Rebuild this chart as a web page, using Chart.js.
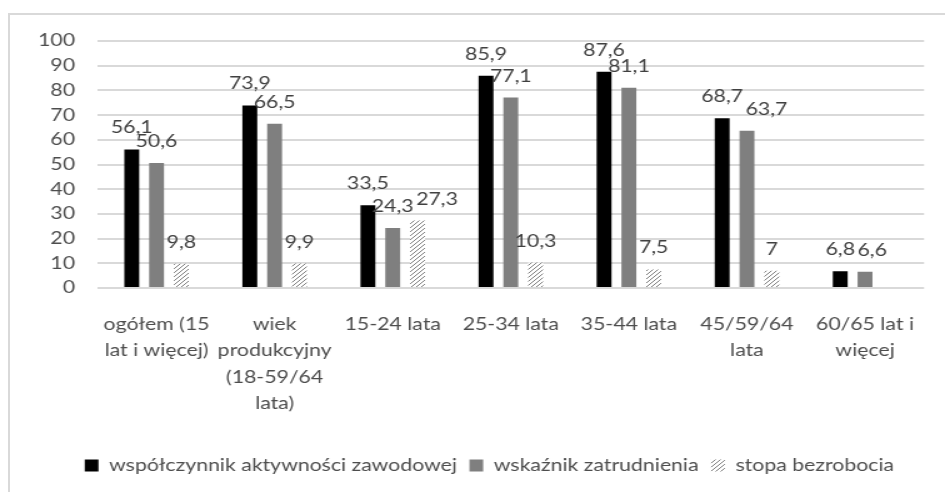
<!DOCTYPE html>
<html>
<head>
<meta charset="utf-8">
<script src="https://cdn.jsdelivr.net/npm/chart.js@4.4.1/dist/chart.umd.min.js"></script>
<style>
  html, body { margin: 0; background: #fff; overflow: hidden; }
  #frame { position: absolute; left: 8px; top: 13px; width: 960px; height: 500px; border: 2px solid #d9d9d9; box-sizing: border-box; }
  /* the reference is a horizontally stretched render, so draw narrow and stretch */
  #wrap { position: absolute; left: 0; top: 0; width: 756px; height: 492px; transform: scaleX(1.25); transform-origin: 0 0; }
</style>
</head>
<body>
<div id="frame"></div>
<div id="wrap"><canvas id="chart"></canvas></div>
<script>
const categories = [
  ["ogółem (15", "lat i więcej)"],
  ["wiek", "produkcyjny", "(18-59/64", "lata)"],
  "15-24 lata",
  "25-34 lata",
  "35-44 lata",
  ["45/59/64", "lata"],
  ["60/65 lat i", "więcej"]
];
const aktywnosc = [56.1, 73.9, 33.5, 85.9, 87.6, 68.7, 6.8];
const zatrudnienie = [50.6, 66.5, 24.3, 77.1, 81.1, 63.7, 6.6];
const bezrobocie = [9.8, 9.9, 27.3, 10.3, 7.5, 7, null];
const yTicks = [0, 10, 20, 30, 40, 50, 60, 70, 80, 90, 100];

// diagonal hatch for "stopa bezrobocia"
function makeHatch() {
  const c = document.createElement('canvas');
  c.width = 4; c.height = 4;
  const g = c.getContext('2d');
  g.fillStyle = '#fff';
  g.fillRect(0, 0, 4, 4);
  g.strokeStyle = '#7f7f7f';
  g.lineWidth = 1;
  g.beginPath();
  g.moveTo(0, 4); g.lineTo(4, 0);
  g.moveTo(-1, 1); g.lineTo(1, -1);
  g.moveTo(3, 5); g.lineTo(5, 3);
  g.stroke();
  return g.createPattern(c, 'repeat');
}

// value labels above bars, nudged right when they collide with the previous one in the group
const valueLabels = {
  id: 'valueLabels',
  afterDatasetsDraw(chart) {
    const ctx = chart.ctx;
    ctx.save();
    ctx.font = '17px Lato';
    ctx.fillStyle = '#404040';
    ctx.textAlign = 'left';
    ctx.textBaseline = 'alphabetic';
    chart.data.labels.forEach((_, j) => {
      let prev = null;
      chart.data.datasets.forEach((ds, i) => {
        const v = ds.data[j];
        if (v == null) return;
        const bar = chart.getDatasetMeta(i).data[j];
        const txt = String(v).replace('.', ',');
        const w = ctx.measureText(txt).width;
        const base = bar.y - 16;
        let left = bar.x - w / 2;
        if (prev && base - 13 < prev.base && base > prev.base - 13 && left < prev.right) {
          left = prev.right + 2;
        }
        ctx.fillText(txt, left, base);
        prev = { right: left + w, base: base };
      });
    });
    ctx.restore();
  }
};

// legend in the reference sits a bit right of the canvas centre
const legendShift = {
  id: 'legendShift',
  afterLayout(chart) {
    chart.legend.left += 19;
    chart.legend.right += 19;
  }
};

const hatch = makeHatch();

new Chart(document.getElementById('chart'), {
  type: 'bar',
  data: {
    labels: categories,
    datasets: [
      { label: 'współczynnik aktywności zawodowej', data: aktywnosc, backgroundColor: '#000000' },
      { label: 'wskaźnik zatrudnienia', data: zatrudnienie, backgroundColor: '#7f7f7f' },
      { label: 'stopa bezrobocia', data: bezrobocie, backgroundColor: hatch }
    ]
  },
  options: {
    responsive: true,
    maintainAspectRatio: false,
    animation: false,
    devicePixelRatio: 1,
    categoryPercentage: 0.63,
    barPercentage: 0.6,
    layout: { padding: { left: 0, top: 41, right: 11, bottom: 8 } },
    plugins: {
      tooltip: { enabled: false },
      legend: {
        position: 'bottom',
        labels: {
          font: { family: 'Lato', size: 17 },
          color: '#4d4d4d',
          boxWidth: 11,
          boxHeight: 12,
          padding: 10
        }
      }
    },
    scales: {
      x: {
        afterFit: s => { s.height = 159; },
        grid: { display: false, drawTicks: false },
        border: { display: false },
        ticks: {
          autoSkip: false,
          maxRotation: 0,
          minRotation: 0,
          padding: 24,
          color: '#4d4d4d',
          font: { family: 'Lato', size: 17, lineHeight: 1.53 }
        }
      },
      y: {
        min: 0,
        max: 100,
        afterFit: s => { s.width = 78; },
        afterBuildTicks: s => { s.ticks = yTicks.map(v => ({ value: v })); },
        grid: { color: '#d9d9d9', lineWidth: 2, drawTicks: false },
        border: { display: false },
        ticks: {
          padding: 18,
          color: '#4d4d4d',
          font: { family: 'Lato', size: 17 }
        }
      }
    }
  },
  plugins: [valueLabels, legendShift]
});
</script>
</body>
</html>
